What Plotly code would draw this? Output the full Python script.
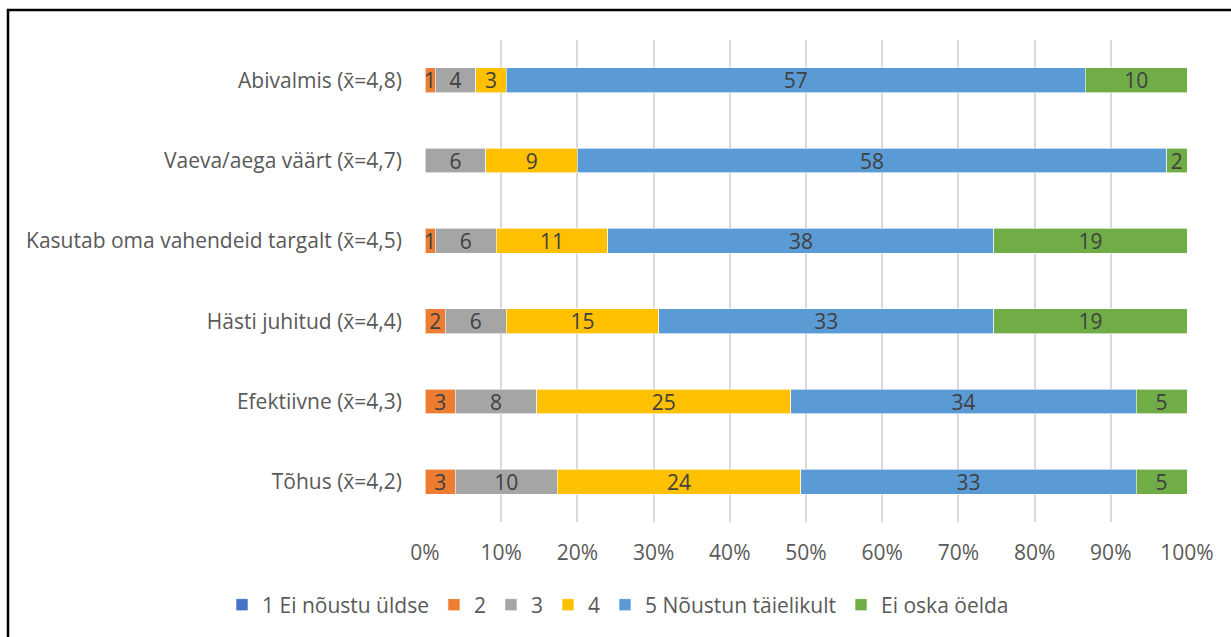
import plotly.graph_objects as go

# Survey statements (top to bottom) with their mean scores
categories = [
    "Abivalmis (x̄=4,8)",
    "Vaeva/aega väärt (x̄=4,7)",
    "Kasutab oma vahendeid targalt (x̄=4,5)",
    "Hästi juhitud (x̄=4,4)",
    "Efektiivne (x̄=4,3)",
    "Tõhus (x̄=4,2)",
]

# Answer counts per statement for each response option
s1_ei_noustu = [0, 0, 0, 0, 0, 0]
s2 = [1, 0, 1, 2, 3, 3]
s3 = [4, 6, 6, 6, 8, 10]
s4 = [3, 9, 11, 15, 25, 24]
s5_noustun = [57, 58, 38, 33, 34, 33]
ei_oska = [10, 2, 19, 19, 5, 5]

series_names = ["1 Ei nõustu üldse", "2", "3", "4", "5 Nõustun täielikult", "Ei oska öelda"]
series_values = [s1_ei_noustu, s2, s3, s4, s5_noustun, ei_oska]
series_colors = ["#4472C4", "#ED7D31", "#A5A5A5", "#FFC000", "#5B9BD5", "#70AD47"]

x_ticks = list(range(0, 101, 10))
x_tick_labels = [f"{t}%" for t in x_ticks]

FONT = "'Open Sans', Lato, sans-serif"
TEXT_COLOR = "#595959"
FS = 21

# plot area in pixels (left, right, top, bottom)
PL, PR, PT, PB = 425, 1187, 40, 522
PW, PH = PR - PL, PB - PT

fig = go.Figure()
for name, vals, col in zip(series_names, series_values, series_colors):
    fig.add_trace(go.Bar(
        y=categories,
        x=vals,
        name=name,
        orientation="h",
        marker=dict(color=col, line=dict(color="white", width=0.6)),
        text=[str(v) if v else "" for v in vals],
        textposition="inside",
        insidetextanchor="middle",
        textangle=0,
        textfont=dict(family=FONT, size=FS, color="#404040"),
        cliponaxis=False,
        hoverinfo="skip",
    ))

fig.update_layout(
    width=1231,
    height=637,
    barmode="stack",
    barnorm="percent",
    bargap=0.69,
    paper_bgcolor="white",
    plot_bgcolor="white",
    margin=dict(l=PL, r=1231 - PR, t=PT, b=637 - PB, autoexpand=False),
    font=dict(family=FONT, size=FS, color=TEXT_COLOR),
    uniformtext=dict(minsize=FS, mode="show"),
    showlegend=True,
    legend=dict(
        orientation="h",
        xref="paper",
        yref="paper",
        x=(222 - PL) / PW,
        xanchor="left",
        y=(PB - 605) / PH,
        yanchor="middle",
        traceorder="normal",
        font=dict(family=FONT, size=FS, color=TEXT_COLOR),
        itemwidth=30,
    ),
    xaxis=dict(
        range=[0, 100],
        tickvals=x_ticks,
        ticktext=x_tick_labels,
        showgrid=True,
        gridcolor="#D9D9D9",
        gridwidth=1.5,
        zeroline=False,
        showline=False,
        ticks="",
        ticklabelstandoff=16,
        tickfont=dict(family=FONT, size=FS, color=TEXT_COLOR),
    ),
    yaxis=dict(
        categoryorder="array",
        categoryarray=categories[::-1],
        showgrid=False,
        zeroline=False,
        showline=False,
        ticks="",
        ticklabelstandoff=22,
        tickfont=dict(family=FONT, size=FS, color=TEXT_COLOR),
    ),
    shapes=[
        # frame around the chart area
        dict(
            type="rect",
            xref="paper", yref="paper",
            x0=(8 - PL) / PW, x1=(1240 - PL) / PW,
            y0=(PB - 650) / PH, y1=(PB - 10) / PH,
            line=dict(color="black", width=2.5),
            fillcolor="rgba(0,0,0,0)",
            layer="above",
        )
    ],
)

fig.write_html("out.html")
